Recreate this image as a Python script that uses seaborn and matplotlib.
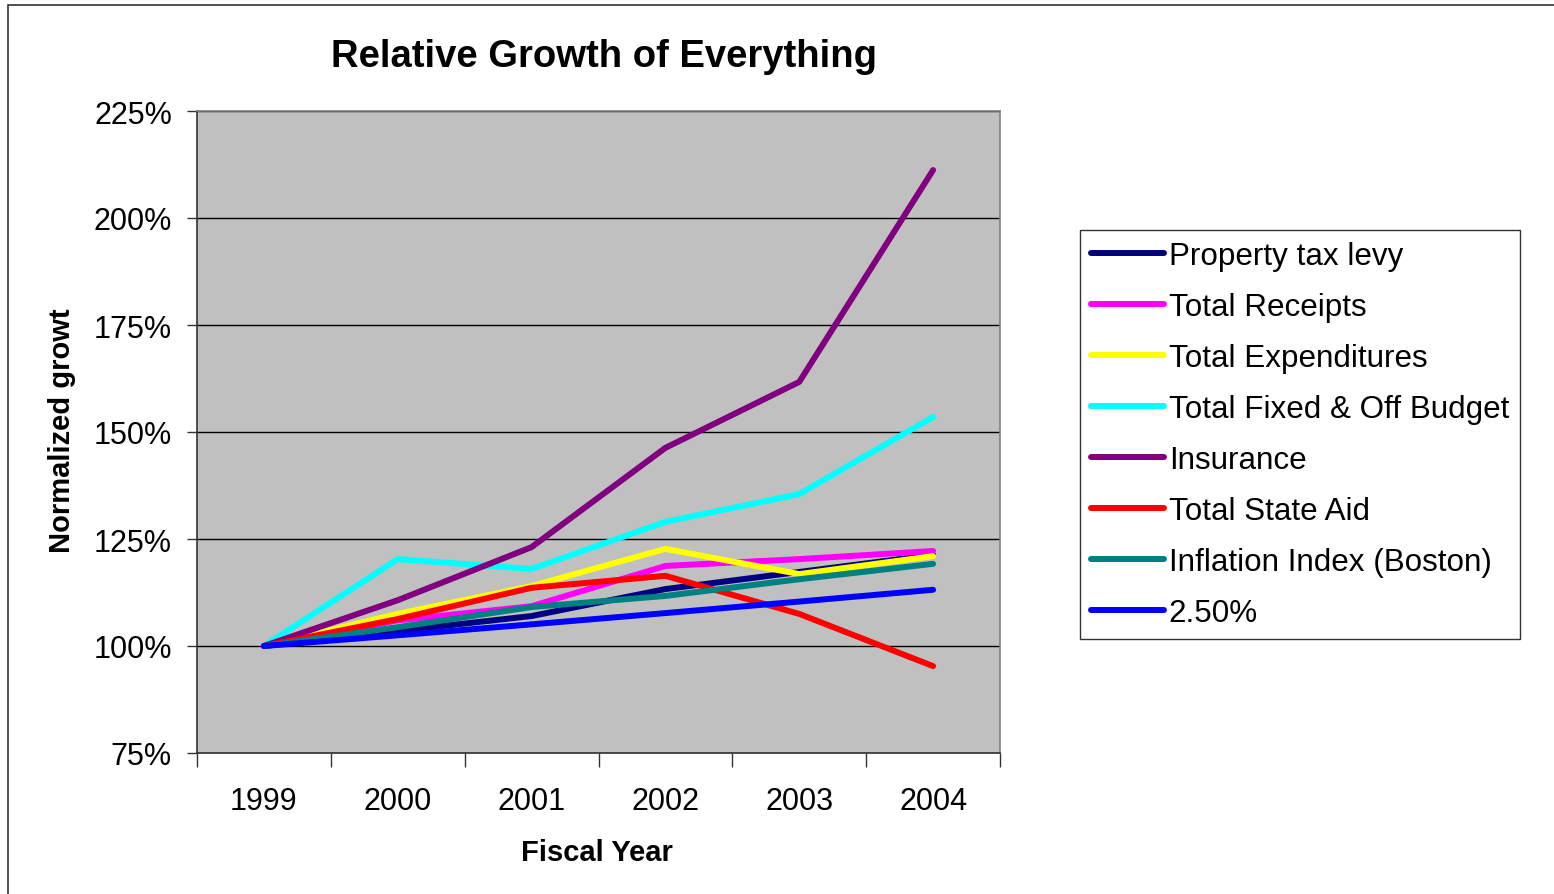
import matplotlib
matplotlib.use("Agg")
import matplotlib.pyplot as plt
import seaborn as sns
import pandas as pd
from matplotlib.patches import Rectangle
from matplotlib.ticker import FixedLocator, FuncFormatter

years = [1999, 2000, 2001, 2002, 2003, 2004]
series_names = ["Property tax levy", "Total Receipts", "Total Expenditures",
                "Total Fixed & Off Budget", "Insurance", "Total State Aid",
                "Inflation Index (Boston)", "2.50%"]
property_tax = [100, 103.5, 107.0, 113.3, 117.3, 121.3]
total_receipts = [100, 106.0, 109.3, 118.7, 120.3, 122.2]
total_expend = [100, 107.5, 114.0, 122.7, 116.8, 121.0]
total_fixed = [100, 120.3, 118.0, 129.0, 135.5, 153.5]
insurance = [100, 110.7, 123.1, 146.3, 161.7, 211.2]
state_aid = [100, 106.3, 113.6, 116.4, 107.5, 95.3]
inflation = [100, 104.4, 109.1, 111.7, 115.6, 119.2]
rate_250 = [100, 102.5, 105.06, 107.69, 110.38, 113.14]
colors = ["#000080", "#FF00FF", "#FFFF00", "#00FFFF", "#800080", "#FF0000", "#008080", "#0000FF"]

all_vals = [property_tax, total_receipts, total_expend, total_fixed,
            insurance, state_aid, inflation, rate_250]
rows = []
for name, vals in zip(series_names, all_vals):
    for y, v in zip(years, vals):
        rows.append({"Fiscal Year": y, "value": v, "series": name})
df = pd.DataFrame(rows)

sns.set_style("white")
plt.rcParams['font.family'] = ['Liberation Sans', 'DejaVu Sans']
plt.rcParams['text.color'] = 'black'
plt.rcParams['axes.labelcolor'] = 'black'
plt.rcParams['xtick.color'] = 'black'
plt.rcParams['ytick.color'] = 'black'

fig = plt.figure(figsize=(15.54, 8.95), dpi=100)
ax = fig.add_axes([197/1554, 1-754/895, (1000-197)/1554, (754-112)/895])
ax.set_facecolor("#C0C0C0")

sns.lineplot(data=df, x="Fiscal Year", y="value", hue="series",
             hue_order=series_names, palette=colors, linewidth=4.3,
             ax=ax, legend=True, zorder=3)

ax.set_xlim(1998.5, 2004.5)
ax.set_ylim(75, 225)
ax.yaxis.set_major_locator(FixedLocator([75, 100, 125, 150, 175, 200, 225]))
ax.yaxis.set_major_formatter(FuncFormatter(lambda v, p: f"{int(v)}%"))
ax.grid(axis="y", color="black", linewidth=1.0, zorder=1)
ax.set_axisbelow(True)

# x ticks: marks at category boundaries, labels at centers
ax.xaxis.set_major_locator(FixedLocator([1998.5 + i for i in range(7)]))
ax.xaxis.set_major_formatter(FuncFormatter(lambda v, p: ""))
ax.xaxis.set_minor_locator(FixedLocator(years))
ax.xaxis.set_minor_formatter(FuncFormatter(lambda v, p: str(int(round(v)))))
ax.tick_params(axis="x", which="major", direction="out", length=10, width=1, color="#333333", bottom=True)
ax.tick_params(axis="x", which="minor", length=0, labelsize=22, pad=24, bottom=True, labelcolor="black")
ax.tick_params(axis="y", which="major", direction="out", length=7, width=1, color="#333333",
               labelsize=22, pad=11, left=True, labelcolor="black")

for s in ["top", "right"]:
    ax.spines[s].set_color("#808080")
    ax.spines[s].set_linewidth(1.2)
for s in ["left", "bottom"]:
    ax.spines[s].set_color("#333333")
    ax.spines[s].set_linewidth(1.2)

ax.set_xlabel("")
ax.set_ylabel("")
fig.text(597/1554, 1-853/895, "Fiscal Year", fontsize=21, fontweight="bold", ha="center", va="center", color="black")
fig.text(62/1554, 1-431/895, "Normalized growt", fontsize=21, fontweight="bold", ha="center", va="center",
         rotation=90, color="black")
fig.text(604/1554, 1-57/895, "Relative Growth of Everything", fontsize=27.5, fontweight="bold",
         ha="center", va="center", color="black")

handles, labels = ax.get_legend_handles_labels()
ax.get_legend().remove()
for h in handles:
    h.set_linewidth(4.3)
leg = fig.legend(handles, labels, loc="upper left",
                 bbox_to_anchor=(1080/1554, 1-231/895),
                 fontsize=22.6, frameon=True, fancybox=False,
                 handlelength=2.33, handletextpad=0.15, labelspacing=0.67,
                 borderpad=0.35, borderaxespad=0)
leg.get_frame().set_edgecolor("black")
leg.get_frame().set_linewidth(1.0)
for t in leg.get_texts():
    t.set_color("black")

fig.patches.append(Rectangle((8/1554, -0.02), 1.0, 1-6/895 + 0.02, transform=fig.transFigure,
                             fill=False, edgecolor="#333333", linewidth=1.2))

fig.savefig("out.png", dpi=100, facecolor="white")
